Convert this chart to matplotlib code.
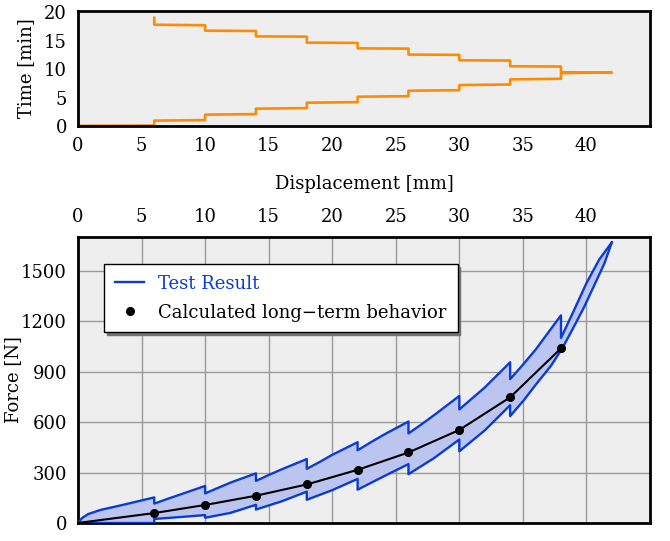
import matplotlib
matplotlib.use("Agg")
import matplotlib.pyplot as plt
import numpy as np

plt.rcParams['font.family'] = 'DejaVu Serif'
plt.rcParams['font.size'] = 13

# --- top panel: time vs displacement (load history) ---
disp_path = [0, 6, 6, 10, 10, 14, 14, 18, 18, 22, 22, 26, 26, 30, 30, 34, 34, 38, 38, 42,
             38, 38, 34, 34, 30, 30, 26, 26, 22, 22, 18, 18, 14, 14, 10, 10, 6, 6]
time_path = [0.05, 0.1, 0.95, 1.05, 2.0, 2.1, 3.05, 3.15, 4.1, 4.2, 5.15, 5.25, 6.2, 6.3,
             7.2, 7.3, 8.2, 8.3, 9.3, 9.4, 9.45, 10.45, 10.5, 11.5, 11.55, 12.5, 12.55,
             13.6, 13.65, 14.6, 14.65, 15.7, 15.75, 16.7, 16.75, 17.7, 17.8, 19.0]

# --- bottom panel: force vs displacement ---
upper_x = [0, 0.3, 0.8, 1.8, 3.5, 6,
           6, 7, 8, 10,
           10, 11, 12, 14,
           14, 15, 16, 18,
           18, 19, 20, 22,
           22, 23, 24, 26,
           26, 27, 28, 30,
           30, 31, 32, 34,
           34, 35, 36, 38,
           38, 39, 40, 41, 42]
upper_f = [0, 28, 53, 78, 107, 152,
           115, 142, 168, 220,
           176, 208, 240, 295,
           250, 285, 318, 380,
           322, 362, 405, 480,
           432, 478, 522, 603,
           532, 585, 640, 755,
           675, 740, 805, 955,
           855, 940, 1030, 1234,
           1100, 1260, 1425, 1565, 1668]

lower_x = [0, 6, 6, 8, 10,
           10, 12, 14,
           14, 16, 18,
           18, 20, 22,
           22, 24, 26,
           26, 28, 30,
           30, 32, 34,
           34, 35.1, 36.1, 37.2, 38.1, 38.9, 39.8, 40.6, 41.4, 42]
lower_f = [0, 0, 24, 35, 47,
           31, 60, 108,
           80, 128, 186,
           138, 195, 262,
           198, 275, 350,
           290, 385, 496,
           426, 550, 700,
           635, 732, 830, 933, 1038, 1150, 1280, 1410, 1540, 1668]

calc_x = [0, 6, 10, 14, 18, 22, 26, 30, 34, 38]
calc_f = [0, 59, 107, 162, 229, 316, 419, 553, 747, 1038]

x_ticks = [0, 5, 10, 15, 20, 25, 30, 35, 40]
time_ticks = [0, 5, 10, 15, 20]
force_ticks = [0, 300, 600, 900, 1200, 1500]

blue = '#0a3cd2'
fill_blue = '#bcc4f0'
orange = '#ff8c00'
bg = '#eeeeee'

fig = plt.figure(figsize=(6.7, 5.41), dpi=100)
ax1 = fig.add_axes([0.1164, 0.767, 0.8537, 0.2126])
ax2 = fig.add_axes([0.1164, 0.0333, 0.8537, 0.5287])

for ax in (ax1, ax2):
    ax.set_facecolor(bg)
    for s in ax.spines.values():
        s.set_linewidth(2.0)
        s.set_color('black')
    ax.tick_params(length=0, pad=8)
    ax.set_xlim(0, 45)
    ax.set_xticks(x_ticks)

# top
ax1.plot(disp_path, time_path, color=orange, lw=1.9)
ax1.set_ylim(0, 20.2)
ax1.set_yticks(time_ticks)
ax1.set_xlabel('Displacement [mm]', labelpad=14)
ax1.set_ylabel('Time [min]')
ax1.yaxis.set_label_coords(-0.075, 0.5)

# bottom
ax2.grid(True, color='#9a9a9a', lw=1.0)
ax2.set_axisbelow(True)
ax2.xaxis.tick_top()
ax2.set_ylim(0, 1700)
ax2.set_yticks(force_ticks)

poly_x = np.concatenate([upper_x, lower_x[::-1]])
poly_f = np.concatenate([upper_f, lower_f[::-1]])
ax2.fill(poly_x, poly_f, color=fill_blue, lw=0, zorder=2)
line_up, = ax2.plot(upper_x, upper_f, color=blue, lw=1.7, zorder=3, label='Test Result')
ax2.plot(lower_x, lower_f, color=blue, lw=1.7, zorder=3)
ax2.plot(calc_x, calc_f, color='black', lw=1.5, zorder=4)
dots, = ax2.plot(calc_x[1:], calc_f[1:], 'o', color='black', ms=5.5, zorder=5,
                 label='Calculated long\u2212term behavior')

ax2.set_ylabel('Force [N]')
ax2.yaxis.set_label_coords(-0.098, 0.5)

leg = ax2.legend(handles=[line_up, dots], loc='upper left', bbox_to_anchor=(0.046, 0.906),
                 borderaxespad=0, fancybox=False, framealpha=1, edgecolor='black',
                 borderpad=0.6, handletextpad=0.8, handlelength=1.6, labelspacing=0.6,
                 shadow={'color': '0.45', 'alpha': 1.0})
leg.get_frame().set_linewidth(1.0)
leg.get_texts()[0].set_color(blue)

fig.savefig('out.png', dpi=100)
